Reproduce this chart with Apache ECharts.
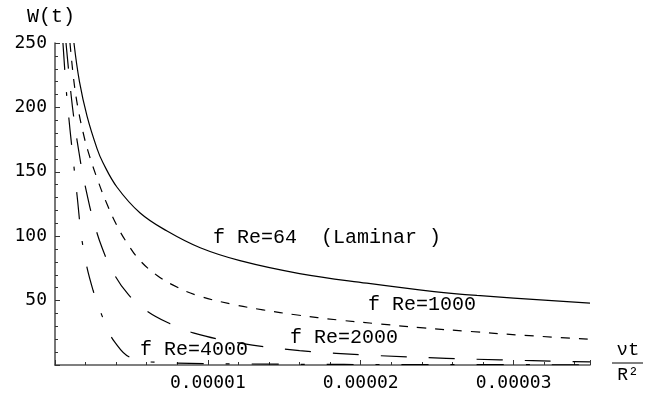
<!DOCTYPE html>
<html>
<head>
<meta charset="utf-8">
<script src="https://cdn.jsdelivr.net/npm/echarts@6/dist/echarts.min.js"></script>
<style>
  html, body { margin: 0; padding: 0; background: #fff; }
  #chart { width: 650px; height: 396px; }
</style>
</head>
<body>
<div id="chart"></div>
<script>
// Time values are in units of 1e-5 (dimensionless νt/R²).
const xTickLabels = ['0.00001', '0.00002', '0.00003'];
const yTickValues = [50, 100, 150, 200, 250];

// f Re = 64 (laminar)
const tLaminar = [0.124, 0.16, 0.21, 0.275, 0.314, 0.406, 0.557, 0.733, 0.95, 1.21, 1.60, 2.04, 2.48, 2.76, 3.50];
const wLaminar = [250, 220, 193, 168, 157, 138, 118, 104, 91, 81, 71, 63.5, 57, 54, 48];

// f Re = 1000
const tRe1000 = [0.098, 0.124, 0.151, 0.183, 0.216, 0.275, 0.34, 0.406, 0.47, 0.557, 0.668, 0.773, 0.93, 1.166, 1.36, 1.585, 1.85, 2.13, 2.41, 2.72, 3.03, 3.50];
const wRe1000 = [250, 220, 199, 181, 166, 145, 125, 108, 95, 81, 69.5, 62, 54, 47, 42.8, 38.8, 35, 31.8, 28.8, 26, 23.3, 20];

// f Re = 2000
const tRe2000 = [0.072, 0.105, 0.131, 0.157, 0.177, 0.216, 0.249, 0.308, 0.38, 0.478, 0.60, 0.753, 0.904, 1.21, 1.60, 2.08, 2.56, 2.91, 3.34, 3.50];
const wRe2000 = [250, 210, 185, 165, 151, 129, 113, 91, 72, 55, 42, 32, 25, 17, 11.2, 7.5, 5.2, 4, 2.8, 2.5];

// f Re = 4000
const tRe4000 = [0.052, 0.072, 0.092, 0.105, 0.115, 0.144, 0.183, 0.249, 0.34, 0.39, 0.49, 0.69, 1.28, 2.5, 3.5];
const wRe4000 = [250, 216, 190, 175, 164, 132, 92, 58, 29, 18, 6, 2, 0.8, 0.3, 0.2];

const UNIT = 1e-5;
const pairs = (t, w) => t.map((v, i) => [v * UNIT, w[i]]);

const chart = echarts.init(document.getElementById('chart'), null, { renderer: 'canvas' });

const curve = (name, t, w, dash) => ({
  name,
  type: 'line',
  data: pairs(t, w),
  showSymbol: false,
  smooth: 0.4,
  lineStyle: { color: '#000', width: 1.2, type: dash },
  silent: true
});

const monoFont = 'Liberation Mono';
const tickFont = 'DejaVu Sans Mono';

chart.setOption({
  animation: false,
  backgroundColor: '#fff',
  grid: { left: 55, top: 43, right: 60, bottom: 31, containLabel: false },
  xAxis: {
    type: 'value',
    min: 0,
    max: 3.5 * UNIT,
    interval: UNIT,
    axisLine: { show: true, onZero: false, lineStyle: { color: '#555', width: 1.6 } },
    axisTick: { show: true, inside: true, length: 5, lineStyle: { color: '#333' } },
    minorTick: { show: true, splitNumber: 5, length: 3, lineStyle: { color: '#333' } },
    splitLine: { show: false },
    axisLabel: {
      showMaxLabel: false,
      margin: 9,
      color: '#000',
      fontFamily: tickFont,
      fontSize: 18,
      formatter: (v) => {
        const k = Math.round(v / UNIT);
        if (k >= 1 && k <= xTickLabels.length && Math.abs(v - k * UNIT) < 1e-9) return xTickLabels[k - 1];
        return '';
      }
    }
  },
  yAxis: {
    type: 'value',
    min: 0,
    max: 250,
    interval: 50,
    axisLine: { show: true, onZero: false, lineStyle: { color: '#555', width: 1.6 } },
    axisTick: { show: true, inside: true, length: 5, lineStyle: { color: '#333' } },
    minorTick: { show: true, splitNumber: 5, length: 3, lineStyle: { color: '#333' } },
    splitLine: { show: false },
    axisLabel: {
      margin: 8,
      color: '#000',
      fontFamily: tickFont,
      fontSize: 18,
      formatter: (v) => (yTickValues.indexOf(v) >= 0 ? String(v) : '')
    }
  },
  series: [
    curve('f Re=64', tLaminar, wLaminar, 'solid'),
    curve('f Re=1000', tRe1000, wRe1000, [9, 9]),
    curve('f Re=2000', tRe2000, wRe2000, [26, 22]),
    curve('f Re=4000', tRe4000, wRe4000, [27, 22, 4, 22])
  ],
  graphic: [
    { type: 'text', left: 27, top: 7, style: { text: 'W(t)', font: '20px "' + monoFont + '"', fill: '#000' } },
    { type: 'text', x: 213, y: 238, style: { text: 'f Re=64  (Laminar )', font: '20px "' + monoFont + '"', fill: '#000', verticalAlign: 'middle' } },
    { type: 'text', x: 368, y: 305, style: { text: 'f Re=1000', font: '20px "' + monoFont + '"', fill: '#000', verticalAlign: 'middle' } },
    { type: 'text', x: 290, y: 338, style: { text: 'f Re=2000', font: '20px "' + monoFont + '"', fill: '#000', verticalAlign: 'middle' } },
    { type: 'text', x: 140, y: 350, style: { text: 'f Re=4000', font: '20px "' + monoFont + '"', fill: '#000', verticalAlign: 'middle' } },
    { type: 'text', x: 628, y: 350, style: { text: 'νt', font: '19px "' + monoFont + '"', fill: '#000', align: 'center', verticalAlign: 'middle' } },
    { type: 'line', shape: { x1: 612, y1: 363, x2: 643, y2: 363 }, style: { stroke: '#000', lineWidth: 1 } },
    { type: 'text', x: 628, y: 375, style: { text: 'R²', font: '18px "' + monoFont + '"', fill: '#000', align: 'center', verticalAlign: 'middle' } }
  ]
});
</script>
</body>
</html>
